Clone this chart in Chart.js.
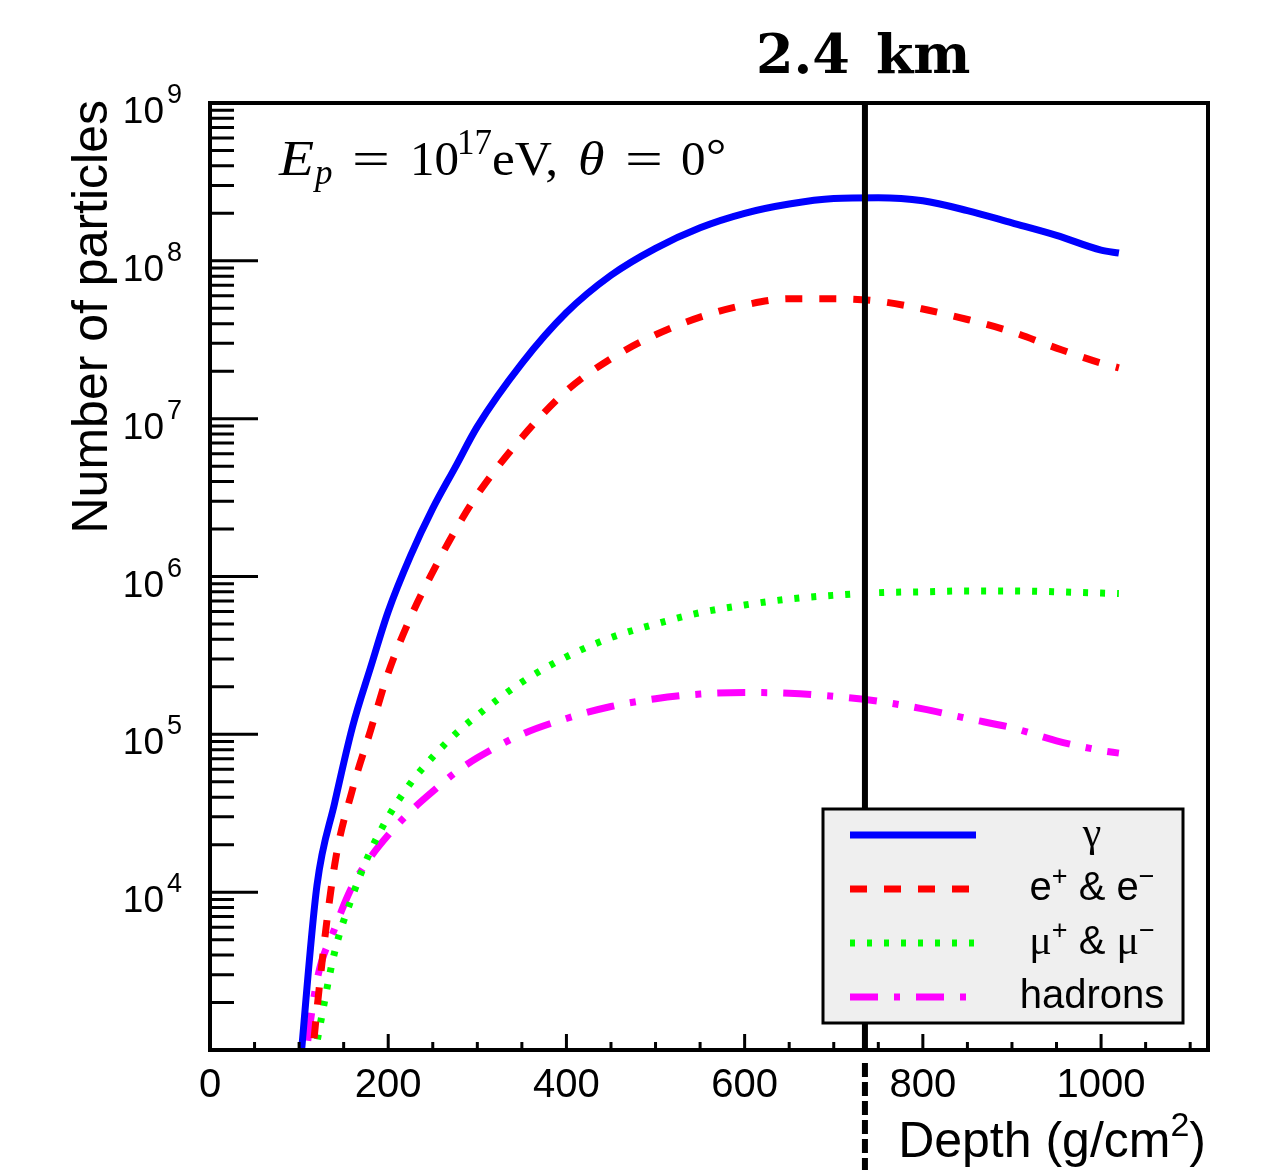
<!DOCTYPE html>
<html>
<head>
<meta charset="utf-8">
<script src="https://cdn.jsdelivr.net/npm/chart.js@4.4.1/dist/chart.umd.min.js"></script>
<style>
  html, body { margin: 0; padding: 0; background: #fff; }
  canvas { display: block; }
</style>
</head>
<body>
<canvas id="showerChart" width="1266" height="1170"></canvas>
<script>
"use strict";

// longitudinal shower profile, atmospheric depth in g/cm2
const depth = [100, 120, 140, 160, 180, 200, 225, 250, 275, 300, 350, 400, 450, 500, 550, 600, 650, 700, 750, 800, 850, 900, 950, 1000, 1020];
const gammas = [6.6e2, 1.1e4, 3.7e4, 1.12e5, 2.63e5, 6.0e5, 1.35e6, 2.7e6, 4.9e6, 8.9e6, 2.24e7, 4.7e7, 8.1e7, 1.2e8, 1.62e8, 2.0e8, 2.29e8, 2.48e8, 2.51e8, 2.4e8, 2.08e8, 1.74e8, 1.45e8, 1.17e8, 1.12e8];
const electrons = [1.0e2, 1.8e3, 1.5e4, 4.5e4, 1.05e5, 2.45e5, 5.5e5, 1.07e6, 1.95e6, 3.3e6, 7.6e6, 1.5e7, 2.4e7, 3.4e7, 4.4e7, 5.25e7, 5.75e7, 5.75e7, 5.55e7, 4.95e7, 4.25e7, 3.55e7, 2.8e7, 2.25e7, 2.1e7];
const muons = [2.7e2, 1.12e3, 4.2e3, 9.5e3, 1.82e4, 3.0e4, 4.9e4, 7.2e4, 1.0e5, 1.32e5, 2.14e5, 3.1e5, 4.1e5, 5.0e5, 5.9e5, 6.6e5, 7.2e5, 7.6e5, 7.9e5, 8.0e5, 8.1e5, 8.1e5, 8.0e5, 7.85e5, 7.8e5];
const hadrons = [4.4e2, 2.75e3, 5.9e3, 1.1e4, 1.66e4, 2.3e4, 3.25e4, 4.35e4, 5.7e4, 7.1e4, 1.0e5, 1.26e5, 1.5e5, 1.68e5, 1.8e5, 1.84e5, 1.82e5, 1.74e5, 1.62e5, 1.45e5, 1.26e5, 1.1e5, 9.1e4, 7.9e4, 7.6e4];

const xTickLabels = [0, 200, 400, 600, 800, 1000];
const yTickExponents = [4, 5, 6, 7, 8, 9];
const observerDepth = 735; // observation level, 2.4 km

const SANS = '"Liberation Sans", Arial, sans-serif';
const SERIF = '"Liberation Serif", "Times New Roman", serif';

function points(ys) {
  return depth.map(function(d, i) { return { x: d, y: ys[i] }; });
}

// draws a run of text pieces (normal / sup / sub) one after another
function drawParts(ctx, parts, x, y, align) {
  let w = 0;
  parts.forEach(function(p) { ctx.font = p.font; w += ctx.measureText(p.t).width; });
  let cx = x;
  if (align === 'center') cx = x - w / 2;
  if (align === 'right') cx = x - w;
  parts.forEach(function(p) {
    ctx.font = p.font;
    ctx.fillText(p.t, cx, y + (p.dy || 0));
    cx += ctx.measureText(p.t).width;
  });
}

const LEG = '40px ' + SANS;
const LEGSUP = '27px ' + SANS;
const LEGGREEK = '42px ' + SERIF;
const legendText = [
  [{ t: 'γ', font: LEGGREEK }],
  [{ t: 'e', font: LEG }, { t: '+', font: LEGSUP, dy: -15 }, { t: ' & e', font: LEG }, { t: '−', font: LEGSUP, dy: -15 }],
  [{ t: 'μ', font: LEGGREEK }, { t: '+', font: LEGSUP, dy: -15 }, { t: ' & ', font: LEG }, { t: 'μ', font: LEGGREEK }, { t: '−', font: LEGSUP, dy: -15 }],
  [{ t: 'hadrons', font: LEG }]
];

// E_p = 10^17 eV, theta = 0 deg  (text, font, x, baseline shift, horizontal stretch)
const energyNote = [
  ['E', 'italic 50px ' + SERIF, 279, 0, 1.15],
  ['p', 'italic 35px ' + SERIF, 315, 9, 1],
  ['=', '48px ' + SERIF, 352, 0, 1.4],
  ['10', '49px ' + SERIF, 410, 0, 1],
  ['17', '35px ' + SERIF, 457, -21, 1],
  ['eV,', '49px ' + SERIF, 492, 0, 1.05],
  ['θ', 'italic 49px ' + SERIF, 578, 0, 1.1],
  ['=', '48px ' + SERIF, 625, 0, 1.4],
  ['0', '49px ' + SERIF, 681, 0, 1],
  ['°', '46px ' + SERIF, 706, -4, 1.1]
];

const decor = {
  id: 'decor',
  afterDatasetsDraw(chart) {
    const ctx = chart.ctx;
    const a = chart.chartArea;
    const xs = chart.scales.x;
    const ys = chart.scales.y;
    ctx.save();
    ctx.fillStyle = '#000';
    ctx.strokeStyle = '#000';

    // observation level line
    const lx = xs.getPixelForValue(observerDepth);
    ctx.lineWidth = 6;
    ctx.beginPath();
    ctx.moveTo(lx, a.top);
    ctx.lineTo(lx, a.bottom);
    ctx.stroke();
    ctx.setLineDash([14, 5]);
    ctx.beginPath();
    ctx.moveTo(lx, a.bottom + 13);
    ctx.lineTo(lx, chart.height);
    ctx.stroke();
    ctx.setLineDash([]);

    ctx.textBaseline = 'alphabetic';
    ctx.font = 'bold 54px "DejaVu Serif", serif';
    ctx.textAlign = 'right';
    ctx.fillText('2.4', lx - 15, 73);
    ctx.textAlign = 'left';
    ctx.fillText('km', lx + 11, 73);

    // legend box
    const lb = { left: 823, top: 809, right: 1183, bottom: 1023 };
    ctx.fillStyle = '#efefef';
    ctx.fillRect(lb.left, lb.top, lb.right - lb.left, lb.bottom - lb.top);
    ctx.lineWidth = 3;
    ctx.strokeRect(lb.left, lb.top, lb.right - lb.left, lb.bottom - lb.top);
    chart.data.datasets.forEach(function(ds, i) {
      const ry = 835 + i * 54;
      ctx.strokeStyle = ds.borderColor;
      ctx.lineWidth = ds.borderWidth;
      ctx.setLineDash(ds.borderDash || []);
      ctx.beginPath();
      ctx.moveTo(850, ry);
      ctx.lineTo(976, ry);
      ctx.stroke();
      ctx.setLineDash([]);
      ctx.fillStyle = '#000';
      ctx.textAlign = 'left';
      drawParts(ctx, legendText[i], 1092, ry + 11, 'center');
    });

    // frame
    ctx.strokeStyle = '#000';
    ctx.lineWidth = 4;
    ctx.strokeRect(a.left, a.top, a.right - a.left, a.bottom - a.top);

    // inward ticks
    ctx.lineWidth = 3;
    ctx.beginPath();
    for (let v = 0; v <= xs.max; v += 50) {
      const px = xs.getPixelForValue(v);
      const len = v % 200 === 0 ? 16 : 8;
      ctx.moveTo(px, a.bottom);
      ctx.lineTo(px, a.bottom - len);
    }
    for (let e = 3; e < 9; e++) {
      for (let m = 1; m <= 9; m++) {
        const py = ys.getPixelForValue(m * Math.pow(10, e));
        ctx.moveTo(a.left, py);
        ctx.lineTo(a.left + (m === 1 ? 48 : 24), py);
      }
    }
    ctx.stroke();

    // tick labels
    ctx.fillStyle = '#000';
    ctx.font = '40px ' + SANS;
    ctx.textAlign = 'center';
    xTickLabels.forEach(function(v) {
      ctx.fillText(String(v), xs.getPixelForValue(v), 1097);
    });
    yTickExponents.forEach(function(e) {
      const py = ys.getPixelForValue(Math.pow(10, e));
      ctx.textAlign = 'right';
      ctx.font = '37px ' + SANS;
      ctx.fillText('10', 164, py + 20);
      ctx.textAlign = 'left';
      ctx.font = '27px ' + SANS;
      ctx.fillText(String(e), 167, py);
    });

    // axis titles
    ctx.textAlign = 'left';
    drawParts(ctx, [
      { t: 'Depth (g/cm', font: '50px ' + SANS },
      { t: '2', font: '34px ' + SANS, dy: -21 },
      { t: ')', font: '50px ' + SANS }
    ], 1206, 1157, 'right');

    ctx.save();
    ctx.translate(107, 100);
    ctx.rotate(-Math.PI / 2);
    ctx.textAlign = 'right';
    ctx.font = '50px ' + SANS;
    ctx.fillText('Number of particles', 0, 0);
    ctx.restore();

    // primary energy and zenith angle
    ctx.textAlign = 'left';
    energyNote.forEach(function(n) {
      ctx.save();
      ctx.font = n[1];
      ctx.translate(n[2], 175 + n[3]);
      ctx.scale(n[4], 1);
      ctx.fillText(n[0], 0, 0);
      ctx.restore();
    });

    ctx.restore();
  }
};

const ctx = document.getElementById('showerChart').getContext('2d');
const chart = new Chart(ctx, {
  type: 'line',
  data: {
    datasets: [
      { label: 'γ', data: points(gammas), borderColor: '#0000ff', borderWidth: 7 },
      { label: 'e+ & e-', data: points(electrons), borderColor: '#ff0000', borderWidth: 7, borderDash: [17, 17] },
      { label: 'μ+ & μ-', data: points(muons), borderColor: '#00ff00', borderWidth: 7, borderDash: [5, 12] },
      { label: 'hadrons', data: points(hadrons), borderColor: '#ff00ff', borderWidth: 7, borderDash: [28, 16, 6, 16] }
    ]
  },
  options: {
    responsive: false,
    animation: false,
    layout: { padding: { left: 210, right: 58, top: 103, bottom: 120 } },
    elements: {
      point: { radius: 0 },
      line: { fill: false, cubicInterpolationMode: 'monotone', borderCapStyle: 'butt', borderJoinStyle: 'round' }
    },
    plugins: {
      legend: { display: false },
      tooltip: { enabled: false }
    },
    scales: {
      x: { type: 'linear', min: 0, max: 1120, display: false },
      y: { type: 'logarithmic', min: 1e3, max: 1e9, display: false }
    }
  },
  plugins: [decor]
});
</script>
</body>
</html>
